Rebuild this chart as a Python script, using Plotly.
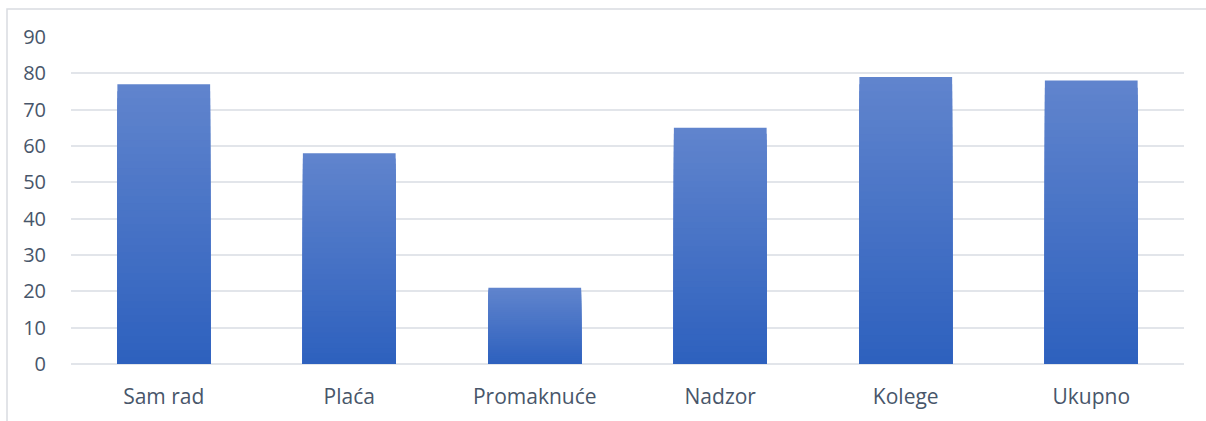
import plotly.graph_objects as go

categories = ["Sam rad", "Plaća", "Promaknuće", "Nadzor", "Kolege", "Ukupno"]
values = [77, 58, 21, 65, 79, 78]
y_ticks = [0, 10, 20, 30, 40, 50, 60, 70, 80, 90]

top_rgb = (96, 132, 205)
bot_rgb = (46, 97, 190)
steps = 40

fig = go.Figure()
# Vertical gradient per bar: overlaid bars, each shorter layer darker
for k in range(steps):
    frac = 1 - k / steps
    t = k / (steps - 1)
    c = tuple(round(top_rgb[i] + (bot_rgb[i] - top_rgb[i]) * t) for i in range(3))
    fig.add_trace(go.Bar(
        x=categories,
        y=[v * frac for v in values],
        marker=dict(color="rgb(%d,%d,%d)" % c, line=dict(width=0)),
        showlegend=False,
        hoverinfo="skip" if k else None,
    ))

fig.update_layout(
    barmode="overlay",
    bargap=0.5,
    width=1206,
    height=421,
    margin=dict(l=71, r=22, t=37, b=57, autoexpand=False),
    paper_bgcolor="white",
    plot_bgcolor="white",
    font=dict(family="Open Sans, sans-serif", size=20, color="#48566A"),
    xaxis=dict(showgrid=False, showline=False, ticks="", ticklabelstandoff=18,
               tickfont=dict(size=21), automargin=False),
    yaxis=dict(range=[0, 90], tickvals=y_ticks, showgrid=True, gridcolor="#E2E5EA",
               gridwidth=1.5, zeroline=True, zerolinecolor="#E2E5EA", zerolinewidth=1.5,
               ticks="", ticklabelstandoff=24, tickfont=dict(size=20), automargin=False),
    shapes=[dict(type="rect", xref="paper", yref="paper", x0=-0.0575, x1=1.1, y0=-0.3, y1=1.0856,
                 line=dict(color="#D9DCE1", width=1.5), fillcolor="rgba(0,0,0,0)", layer="below")],
)
fig.write_html("out.html", config={"displayModeBar": False},
               post_script="document.body.style.margin='0';")
